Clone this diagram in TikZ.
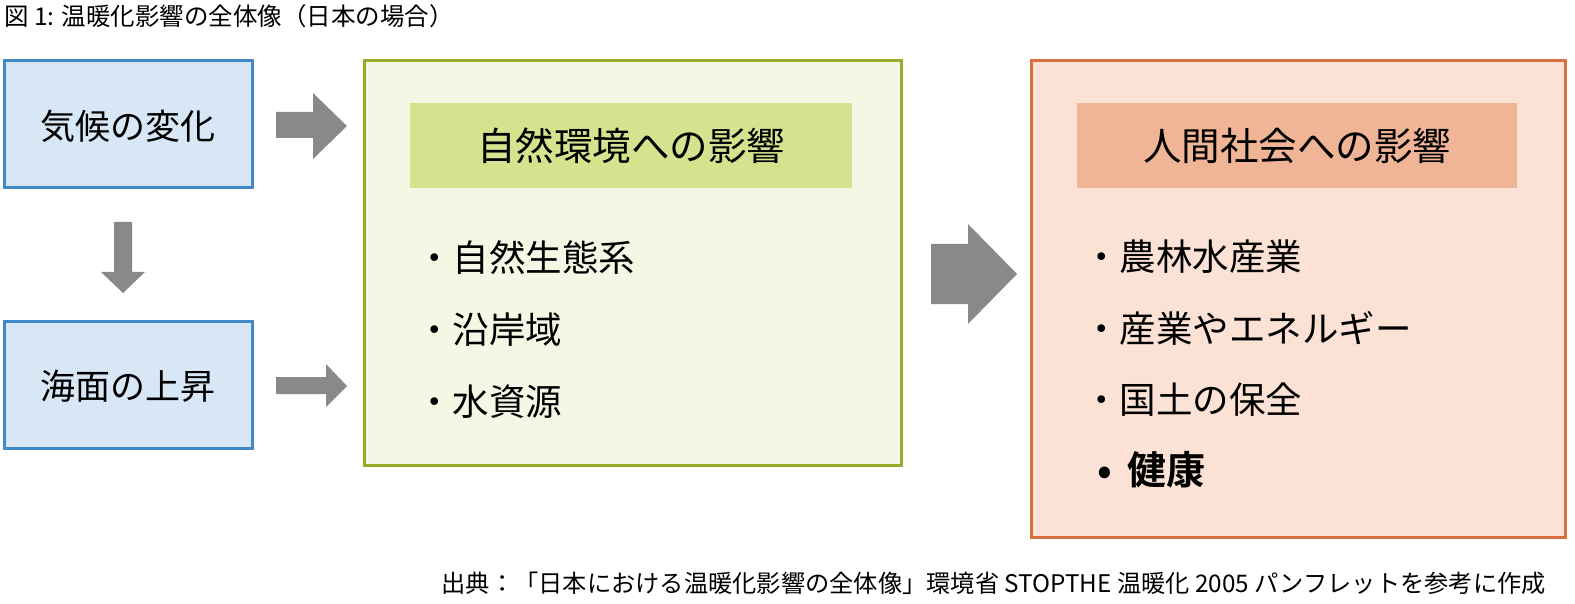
\documentclass[tikz,border=0pt]{standalone}
\usepackage{fontspec}
\setmainfont{Noto Sans CJK JP}
\newfontfamily\jpb{Noto Sans CJK JP}[BoldFont={* Bold}]
\definecolor{bluebd}{HTML}{4189C8}
\definecolor{bluefl}{HTML}{D7E7F6}
\definecolor{greenbd}{HTML}{93AE2A}
\definecolor{greenfl}{HTML}{F4F7E3}
\definecolor{greenhd}{HTML}{D4E38E}
\definecolor{orbd}{HTML}{D86F3F}
\definecolor{orfl}{HTML}{FBE2D4}
\definecolor{orhd}{HTML}{EFB596}
\definecolor{arrgray}{HTML}{898989}
\begin{document}
\begin{tikzpicture}[x=1pt,y=-1pt,
  bluebox/.style={draw=bluebd,fill=bluefl,line width=3pt},
  greenbox/.style={draw=greenbd,fill=greenfl,line width=3pt},
  orbox/.style={draw=orbd,fill=orfl,line width=3pt},
  blocktxt/.style={font=\fontsize{35}{40}\selectfont,inner sep=0pt},
  headtxt/.style={font=\fontsize{38.5}{44}\selectfont,inner sep=0pt},
  bullettxt/.style={font=\fontsize{36.5}{42}\selectfont,inner sep=0pt,anchor=west},
  blockarrow/.style={fill=arrgray,draw=none}]
\useasboundingbox (0,0) rectangle (1575,604);
\fill[white] (0,0) rectangle (1575,604);
% title
\node[anchor=west,inner sep=0pt,font=\fontsize{24.5}{28}\selectfont] (title) at (4,16) {図 1: 温暖化影響の全体像（日本の場合）};
% left boxes
\draw[bluebox] (4,61) rectangle (252,188);
\node[blocktxt] (climate) at (128,126) {気候の変化};
\draw[bluebox] (4,321) rectangle (252,448);
\node[blocktxt] (sea) at (128,386) {海面の上昇};
% green box
\draw[greenbox] (364,61) rectangle (901,465);
\fill[greenhd] (410,103) rectangle (852,188);
\node[headtxt] (nathead) at (631,146) {自然環境への影響};
\node[bullettxt] (n1) at (416,258) {・自然生態系};
\node[bullettxt] (n2) at (416,330) {・沿岸域};
\node[bullettxt] (n3) at (416,402) {・水資源};
% orange box
\draw[orbox] (1031,61) rectangle (1565,537);
\fill[orhd] (1077,103) rectangle (1517,188);
\node[headtxt] (humhead) at (1297,146) {人間社会への影響};
\node[bullettxt] (h1) at (1083,257) {・農林水産業};
\node[bullettxt] (h2) at (1083,328) {・産業やエネルギー};
\node[bullettxt] (h3) at (1083,400) {・国土の保全};
\node[bullettxt,font=\fontsize{39}{44}\selectfont\jpb\bfseries] (h4) at (1083,470) {\makebox[44pt][c]{•}健康};
% arrows
\fill[blockarrow] (276,112) -- (313,112) -- (313,93) -- (347,126) -- (313,159) -- (313,138) -- (276,138) -- cycle;
\fill[blockarrow] (276,377) -- (326,377) -- (326,364) -- (347,386) -- (326,407) -- (326,394) -- (276,394) -- cycle;
\fill[blockarrow] (114,222) -- (132,222) -- (132,272) -- (145,272) -- (123,293) -- (101,272) -- (114,272) -- cycle;
\fill[blockarrow] (931,244) -- (968,244) -- (968,224) -- (1017,274) -- (968,324) -- (968,304) -- (931,304) -- cycle;
% footer
\node[anchor=east,inner sep=0pt,font=\fontsize{21}{24}\selectfont] (src) at (1546,583) {\resizebox{1104pt}{!}{出典：「日本における温暖化影響の全体像」環境省 STOPTHE 温暖化 2005 パンフレットを参考に作成}};
\end{tikzpicture}
\end{document}
